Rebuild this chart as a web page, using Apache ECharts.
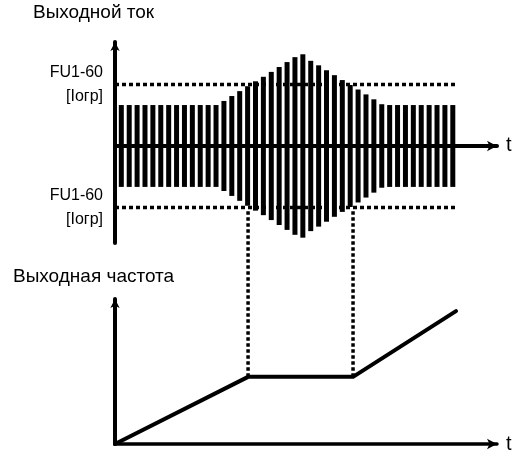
<!DOCTYPE html>
<html>
<head>
<meta charset="utf-8">
<script src="https://cdn.jsdelivr.net/npm/echarts@6/dist/echarts.min.js"></script>
<style>html,body{margin:0;padding:0;background:#fff}#c{width:517px;height:462px}</style>
</head>
<body>
<div id="c"></div>
<script>
// ---- data ----
var currentTitle = 'Выходной ток';
var freqTitle = 'Выходная частота';
var timeName = 't';
var limitLabel = 'FU1-60\n[Iогр]';
// current waveform samples (time, amplitude; 1 = nominal current)
var barTimes = [0.8,1.8,2.8,3.8,4.8,5.8,6.8,7.8,8.8,9.8,10.8,11.8,12.8,13.8,14.8,15.8,16.8,17.8,18.8,19.8,20.8,21.8,22.8,23.8,24.8,25.8,26.8,27.8,28.8,29.8,30.8,31.8,32.8,33.8,34.8,35.8,36.8,37.8,38.8,39.8,40.8,41.8,42.8];
var barAmps = [1,1,1,1,1,1,1,1,1,1,1,1,1,1.10,1.22,1.34,1.46,1.58,1.69,1.81,1.93,2.05,2.17,2.24,2.08,1.97,1.85,1.73,1.61,1.49,1.38,1.26,1.14,1.02,1,1,1,1,1,1,1,1,1];
// stall current level FU1-60
var limitLevel = 1.5;
var limitTimes = [0, 43.2];
// output frequency
var freqTimes = [0, 16.86, 30.16, 43.2];
var freqVals = [0, 50, 50, 99];
// vertical guide lines (time, from frequency to current limit)
var guideTimes = [16.86, 30.16];
var guideFreq = 50;
var guideTop = 174;

var tMax = 48.4;
var FONT = "'Liberation Sans Narrow','Arial Narrow','Liberation Sans',Arial,sans-serif";

var posData = barTimes.map(function(t,i){return [t, barAmps[i]];});
var negData = barTimes.map(function(t,i){return [t, -barAmps[i]];});

var series = [
  {type:'bar', xAxisIndex:0, yAxisIndex:0, stack:'wave', data:posData, barWidth:5, itemStyle:{color:'#000'}, silent:true, z:3},
  {type:'bar', xAxisIndex:0, yAxisIndex:0, stack:'wave', data:negData, barWidth:5, itemStyle:{color:'#000'}, silent:true, z:3},
  {type:'line', xAxisIndex:0, yAxisIndex:0, data:limitTimes.map(function(t){return [t, limitLevel];}), symbol:'none', lineStyle:{color:'#000', width:3.5, type:[4,3]}, z:4},
  {type:'line', xAxisIndex:0, yAxisIndex:0, data:limitTimes.map(function(t){return [t, -limitLevel];}), symbol:'none', lineStyle:{color:'#000', width:3.5, type:[4,3]}, z:4},
  {type:'line', xAxisIndex:1, yAxisIndex:1, data:freqTimes.map(function(t,i){return [t, freqVals[i]];}), symbol:'none', lineStyle:{color:'#000', width:4, cap:'round', join:'round'}, z:4}
];
guideTimes.forEach(function(t){
  series.push({type:'line', xAxisIndex:1, yAxisIndex:1, clip:false, data:[[t, guideFreq],[t, guideTop]], symbol:'none', lineStyle:{color:'#000', width:3.5, type:[3.5,2.5]}, z:4});
});

var axisLineStyle = {color:'#000', width:4};
var chart = echarts.init(document.getElementById('c'), null, {renderer:'canvas'});
chart.setOption({
  animation:false,
  backgroundColor:'#fff',
  title:[
    {text:currentTitle, left:28, top:-2, textStyle:{fontFamily:FONT, fontSize:19, fontWeight:'normal', color:'#000'}},
    {text:freqTitle, left:8, top:262, textStyle:{fontFamily:FONT, fontSize:19, fontWeight:'normal', color:'#000'}}
  ],
  grid:[
    {left:115, right:20, top:42, height:201},
    {left:115, right:20, top:299, height:145}
  ],
  xAxis:[
    {type:'value', gridIndex:0, min:0, max:tMax, name:timeName, nameLocation:'end', nameGap:9,
     nameTextStyle:{fontFamily:FONT, fontSize:20, color:'#000', verticalAlign:'middle'},
     axisLine:{onZero:true, lineStyle:{color:'#000', width:4}, symbol:['none','arrow'], symbolSize:[8,10]},
     axisTick:{show:false}, axisLabel:{show:false}, splitLine:{show:false}},
    {type:'value', gridIndex:1, min:0, max:tMax, name:timeName, nameLocation:'end', nameGap:9,
     nameTextStyle:{fontFamily:FONT, fontSize:20, color:'#000', verticalAlign:'middle'},
     axisLine:{onZero:true, lineStyle:{color:'#000', width:3.5}, symbol:['none','arrow'], symbolSize:[8,10]},
     axisTick:{show:false}, axisLabel:{show:false}, splitLine:{show:false}}
  ],
  yAxis:[
    {type:'value', gridIndex:0, min:-2.37, max:2.54,
     axisLine:{show:true, onZero:false, lineStyle:axisLineStyle, symbol:['none','arrow'], symbolSize:[7,9]},
     axisTick:{show:false}, splitLine:{show:false},
     axisLabel:{show:true, customValues:[-limitLevel, limitLevel], formatter:function(){return limitLabel;},
       fontFamily:FONT, fontSize:16, lineHeight:24, color:'#000', margin:12, align:'right'}},
    {type:'value', gridIndex:1, min:0, max:108,
     axisLine:{show:true, onZero:false, lineStyle:axisLineStyle, symbol:['none','arrow'], symbolSize:[7,9]},
     axisTick:{show:false}, splitLine:{show:false}, axisLabel:{show:false}}
  ],
  series:series
});
</script>
</body>
</html>
